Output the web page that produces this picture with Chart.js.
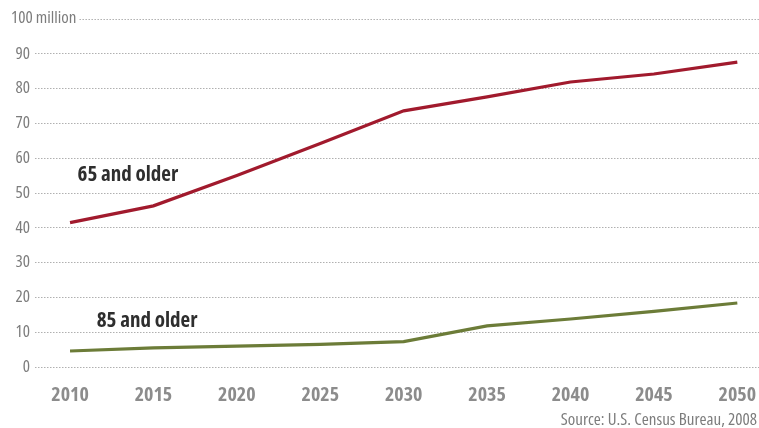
<!DOCTYPE html>
<html>
<head>
<meta charset="utf-8">
<script src="https://cdn.jsdelivr.net/npm/chart.js@4.4.1/dist/chart.umd.min.js"></script>
<style>
  html, body { margin: 0; padding: 0; background: #ffffff; }
  #wrap { width: 759px; height: 428px; position: relative; }
</style>
</head>
<body>
<div id="wrap"><canvas id="c" width="759" height="428"></canvas></div>
<script>
const years = [2010, 2015, 2020, 2025, 2030, 2035, 2040, 2045, 2050];
const age65 = [41.5, 46.3, 55.0, 64.2, 73.6, 77.6, 81.9, 84.2, 87.6];
const age85 = [4.6, 5.5, 6.0, 6.5, 7.3, 11.8, 13.8, 16.0, 18.4];
const yTicks = [0, 10, 20, 30, 40, 50, 60, 70, 80, 90, 100];
const seriesLabels = ['65 and older', '85 and older'];
const sourceText = 'Source: U.S. Census Bureau, 2008';
const topLabel = '100 million';

const FONT = "'Open Sans', 'Liberation Sans', sans-serif";
const RED = '#a11a2d';
const GREEN = '#6c7c38';
const GRID = '#b0b0b0';
const LABEL = '#7c7c7c';

const extras = {
  id: 'extras',
  afterDraw(chart) {
    const ctx = chart.ctx;
    const xs = chart.scales.x, ys = chart.scales.y;
    ctx.save();
    // "100 million" label and its gridline
    ctx.font = 'condensed 17px ' + FONT;
    ctx.fillStyle = LABEL;
    ctx.textBaseline = 'middle';
    ctx.textAlign = 'left';
    const y100 = ys.getPixelForValue(100);
    ctx.fillText(topLabel, 11, y100 - 1);
    const w = ctx.measureText(topLabel).width;
    ctx.strokeStyle = GRID;
    ctx.lineWidth = 1;
    ctx.setLineDash([1.5, 1.5]);
    ctx.beginPath();
    ctx.moveTo(11 + w + 3, y100 + 0.5);
    ctx.lineTo(chart.chartArea.right, y100 + 0.5);
    ctx.stroke();
    ctx.setLineDash([]);
    // series annotations
    ctx.font = 'bold condensed 21px ' + FONT;
    ctx.fillStyle = '#2e2e2e';
    ctx.fillText(seriesLabels[0], xs.getPixelForValue(2010.45), ys.getPixelForValue(55.3));
    ctx.fillText(seriesLabels[1], xs.getPixelForValue(2011.6), ys.getPixelForValue(13.1));
    // source
    ctx.font = 'condensed 17px ' + FONT;
    ctx.fillStyle = LABEL;
    ctx.textAlign = 'right';
    ctx.fillText(sourceText, 757, 420);
    ctx.restore();
  }
};

new Chart(document.getElementById('c'), {
  type: 'line',
  data: {
    datasets: [
      { label: seriesLabels[0], data: years.map((y, i) => ({ x: y, y: age65[i] })),
        borderColor: RED, borderWidth: 3.2, pointRadius: 0, tension: 0, fill: false },
      { label: seriesLabels[1], data: years.map((y, i) => ({ x: y, y: age85[i] })),
        borderColor: GREEN, borderWidth: 3.2, pointRadius: 0, tension: 0, fill: false }
    ]
  },
  options: {
    responsive: false,
    animation: false,
    layout: { padding: { top: 19, right: 0, left: 0, bottom: 0 } },
    plugins: { legend: { display: false }, tooltip: { enabled: false } },
    scales: {
      x: {
        type: 'linear',
        min: 2007.9,
        max: 2051.3,
        afterBuildTicks: (s) => { s.ticks = years.map(v => ({ value: v })); },
        afterFit: (s) => { s.height = 61; s.paddingLeft = 0; s.paddingRight = 0; },
        grid: { display: false, drawTicks: false },
        border: { display: false },
        ticks: {
          includeBounds: false,
          padding: 16,
          color: '#8c8c8c',
          font: { family: FONT, size: 20, weight: 'bold condensed' },
          callback: (v) => String(v)
        }
      },
      y: {
        min: 0,
        max: 100,
        afterBuildTicks: (s) => { s.ticks = yTicks.map(v => ({ value: v })); },
        afterFit: (s) => { s.width = 35; },
        grid: {
          drawTicks: false,
          color: (c) => (c.tick && c.tick.value === 100) ? 'rgba(0,0,0,0)' : GRID,
          lineWidth: 1
        },
        border: { display: false, dash: [1.5, 1.5] },
        ticks: {
          padding: 5,
          color: LABEL,
          font: { family: FONT, size: 17, weight: 'condensed' },
          callback: (v) => v === 100 ? '' : String(v)
        }
      }
    }
  },
  plugins: [extras]
});
</script>
</body>
</html>
